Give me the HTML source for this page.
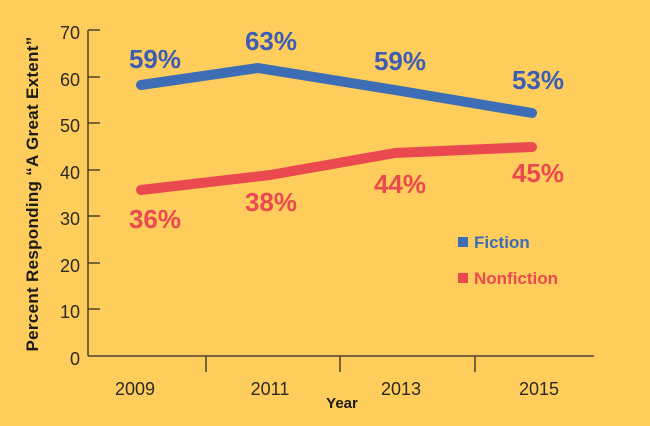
<!DOCTYPE html>
<html><head><meta charset="utf-8"><style>
body{margin:0;background:#FFCD5B;}
svg{display:block;font-family:"Liberation Sans",sans-serif;}
</style></head><body>
<svg width="650" height="426" viewBox="0 0 650 426">
<rect width="650" height="426" fill="#FFCD5B"/>
<g stroke="#4a4230" stroke-width="1.5" fill="none">
<line x1="88" y1="30" x2="88" y2="356"/>
<line x1="88" y1="356" x2="594" y2="356"/>
<line x1="88" y1="30" x2="100" y2="30"/>
<line x1="88" y1="77" x2="100" y2="77"/>
<line x1="88" y1="123" x2="100" y2="123"/>
<line x1="88" y1="170" x2="100" y2="170"/>
<line x1="88" y1="216" x2="100" y2="216"/>
<line x1="88" y1="263" x2="100" y2="263"/>
<line x1="88" y1="309" x2="100" y2="309"/>
<line x1="206" y1="356" x2="206" y2="372"/>
<line x1="340" y1="356" x2="340" y2="372"/>
<line x1="475" y1="356" x2="475" y2="372"/>
</g>
<g font-size="18" fill="#2d2a24" text-anchor="end">
<text x="80" y="39">70</text><text x="80" y="86">60</text><text x="80" y="132">50</text>
<text x="80" y="179">40</text><text x="80" y="225">30</text><text x="80" y="272">20</text>
<text x="80" y="318">10</text><text x="80" y="365">0</text>
</g>
<g font-size="18" fill="#2d2a24" text-anchor="middle">
<text x="135" y="395">2009</text><text x="270" y="395">2011</text>
<text x="401" y="395">2013</text><text x="539" y="395">2015</text>
</g>
<text x="342" y="408" font-size="15" font-weight="bold" fill="#1e1b16" text-anchor="middle">Year</text>
<text transform="translate(38,194) rotate(-90)" font-size="17" letter-spacing="0.3" font-weight="bold" fill="#1e1b16" text-anchor="middle">Percent Responding “A Great Extent”</text>
<polyline points="141,85 258,68 395,90 532,113" fill="none" stroke="#3D6DB5" stroke-width="10" stroke-linecap="round" stroke-linejoin="round"/>
<polyline points="141,190 270,175 395,153 532,147" fill="none" stroke="#EA4950" stroke-width="10" stroke-linecap="round" stroke-linejoin="round"/>
<g font-size="26" font-weight="bold" fill="#3D5DB5" text-anchor="middle">
<text x="155" y="68">59%</text><text x="271" y="50">63%</text>
<text x="400" y="70">59%</text><text x="538" y="89">53%</text>
</g>
<g font-size="26" font-weight="bold" fill="#EA4950" text-anchor="middle">
<text x="155" y="228">36%</text><text x="271" y="211">38%</text>
<text x="400" y="193">44%</text><text x="538" y="182">45%</text>
</g>
<rect x="458" y="237" width="10" height="10" fill="#3D6DB5"/>
<text x="474" y="248" font-size="17" font-weight="bold" fill="#3D6DB5">Fiction</text>
<rect x="458" y="273" width="10" height="10" fill="#EA4950"/>
<text x="474" y="284" font-size="17" font-weight="bold" fill="#EA4950">Nonfiction</text>
</svg>
</body></html>
